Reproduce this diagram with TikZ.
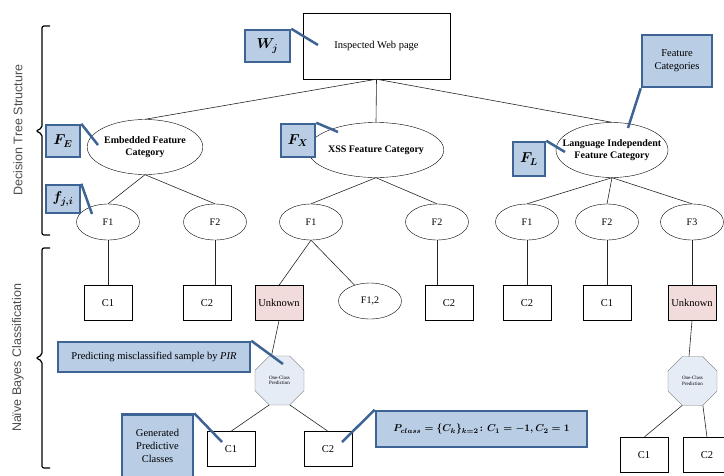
\documentclass[tikz,border=0pt]{standalone}
\usepackage{amsmath,amssymb}
\usepackage{fontspec}
\setmainfont{Liberation Serif}
\setsansfont{Liberation Sans}
\usepackage{tikz}
\usetikzlibrary{shapes.geometric}
\definecolor{calloutfill}{HTML}{B9CDE5}
\definecolor{calloutline}{HTML}{3D6494}
\definecolor{unknownfill}{HTML}{F2DCDB}
\definecolor{octfill}{HTML}{E6ECF6}
\tikzstyle{webpage}=[rectangle,draw,minimum width=147pt,minimum height=66pt,font=\fontsize{10.5}{12}\selectfont]
\tikzstyle{category}=[ellipse,draw,minimum width=112pt,minimum height=55pt,inner sep=0pt,align=center,font=\bfseries\fontsize{10}{11.5}\selectfont]
\tikzstyle{feature}=[ellipse,draw,minimum width=63pt,minimum height=36pt,inner sep=0pt,font=\fontsize{10}{12}\selectfont]
\tikzstyle{class}=[rectangle,draw,minimum width=48pt,minimum height=35pt,inner sep=0pt,font=\fontsize{10.5}{12}\selectfont]
\tikzstyle{unknown}=[class,fill=unknownfill]
\tikzstyle{oneclass}=[regular polygon,regular polygon sides=8,draw=black!55,fill=octfill,minimum size=53pt,inner sep=0pt,align=center,font=\fontsize{5}{5.5}\selectfont]
\tikzstyle{callout}=[rectangle,draw=calloutline,fill=calloutfill,line width=2.5pt,inner sep=0pt,align=center,font=\fontsize{10.5}{13}\selectfont]
\tikzstyle{pointer}=[draw=calloutline,line width=2.5pt]
\tikzstyle{link}=[draw,black!85,line width=0.6pt]
\tikzstyle{bracket}=[draw,line width=1.2pt,rounded corners=2pt]
\tikzstyle{side label}=[rotate=90,text=black!70,font=\sffamily\fontsize{12.5}{14}\selectfont]
\newcommand{\lbl}[1]{\fontsize{14}{16}\selectfont$\boldsymbol{#1}$}

\begin{document}
\begin{tikzpicture}[x=1pt,y=-1pt]
    \useasboundingbox (0,0) rectangle (724,475);
    % tree
    \node[webpage] (root) at (376.5,46) {Inspected Web page};
    \foreach \pos/\name/\txt in {{(145,147)/emb/Embedded Feature\\Category}, {(376,150)/xss/XSS Feature Category}}
        \node[category] (\name) at \pos {\txt};
    \node[category,inner xsep=-10pt] (lang) at (612,150) {Language Independent\\Feature Category};
    \foreach \pos/\name/\txt in {{(108,222)/ef1/F1}, {(215,222)/ef2/F2}, {(311,222)/xf1/F1}, {(437,222)/xf2/F2}, {(527,222)/lf1/F1}, {(607,222)/lf2/F2}, {(692,222)/lf3/F3}, {(370,301)/xf12/{F1,2}}}
        \node[feature] (\name) at \pos {\txt};
    \foreach \pos/\name/\txt in {{(108,303)/ec1/C1}, {(207,303)/ec2/C2}, {(449,303)/xc2/C2}, {(527,303)/lc2/C2}, {(607,303)/lc1/C1}, {(231,449)/pc1/C1}, {(328,449)/pc2/C2}, {(644,455)/qc1/C1}, {(707,455)/qc2/C2}}
        \node[class] (\name) at \pos {\txt};
    \node[unknown] (unk1) at (279,303) {Unknown};
    \node[unknown] (unk2) at (692,303) {Unknown};
    \node[oneclass] (oct1) at (279.5,380.5) {One-Class\\Prediction};
    \node[oneclass] (oct2) at (692.5,381) {One-Class\\Prediction};

    \foreach \dest in {emb,xss,lang}
        \path[link] (root.south) -- (\dest.north);
    \foreach \source/\dest in {emb/ef1, emb/ef2, xss/xf1, xss/xf2, lang/lf1, lang/lf2, lang/lf3}
        \path[link] (\source.south) -- (\dest.north);
    \foreach \source/\dest in {ef1/ec1, ef2/ec2, xf2/xc2, lf1/lc2, lf2/lc1, lf3/unk2}
        \path[link] (\source.south) -- (\source.south |- \dest.north);
    \path[link] (xf1.south) -- (unk1.north);
    \path[link] (xf1.south) -- (xf12);
    \path[link] (unk1.south) -- (oct1.108);
    \path[link] (unk2.south) -- (oct2.98);
    \foreach \oct/\left/\right in {oct1/pc1/pc2, oct2/qc1/qc2} {
        \path[link] (\oct.247) -- (\left.north);
        \path[link] (\oct.293) -- (\right.north);
    }

    % callouts
    \foreach \pos/\name/\w/\h/\txt in {{(267.5,46)/cw/45/32/\lbl{W_j}}, {(63,141)/cfe/34/32/\lbl{F_E}}, {(298,140.5)/cfx/34/33/\lbl{F_X}}, {(529,159)/cfl/32/34/\lbl{F_L}}, {(63,199)/cfji/34/28/\lbl{f_{j,i}}}, {(677,61)/ccat/70/52/Feature\\Categories}, {(154,357)/cpir/192/30/Predicting misclassified sample by \textit{PIR}}, {(157.5,446)/cgen/71/63/Generated\\Predictive\\Classes}, {(481.5,429)/cpc/211/36/{\fontsize{10}{12}\selectfont$\boldsymbol{P_{class}=\{C_k\}_{k=2}\colon C_1=-1, C_2=1}$}}}
        \node[callout,minimum width=\w pt,minimum height=\h pt] (\name) at \pos {\txt};
    \coordinate (tw) at (318,45);
    \coordinate (tfe) at (98,145);
    \coordinate (tfx) at (338,132);
    \coordinate (tfl) at (565,152);
    \coordinate (tfji) at (92,214);
    \coordinate (tcat) at (628,128);
    \coordinate (tpir) at (283,364);
    \coordinate (tgen) at (222,442);
    \coordinate (tpc) at (342,442);
    \foreach \source/\dest in {cw.north east/tw, cfe.north east/tfe, cfx.north east/tfx, cfl.north east/tfl, cfji.north east/tfji, ccat.south west/tcat, cpir.north east/tpir, cgen.north east/tgen, cpc.north west/tpc}
        \path[pointer] (\source) -- (\dest);

    % side brackets
    \path[bracket] (50,26) -- (42,26) -- (42,128) -- (36,131) -- (42,134) -- (42,235) -- (50,235);
    \path[bracket] (50,248) -- (42,248) -- (42,355) -- (36,358) -- (42,361) -- (42,468) -- (50,468);
    \node[side label] (dts) at (18,130) {Decision Tree Structure};
    \node[side label] (nbc) at (18,358) {Naïve Bayes Classification};
\end{tikzpicture}
\end{document}
